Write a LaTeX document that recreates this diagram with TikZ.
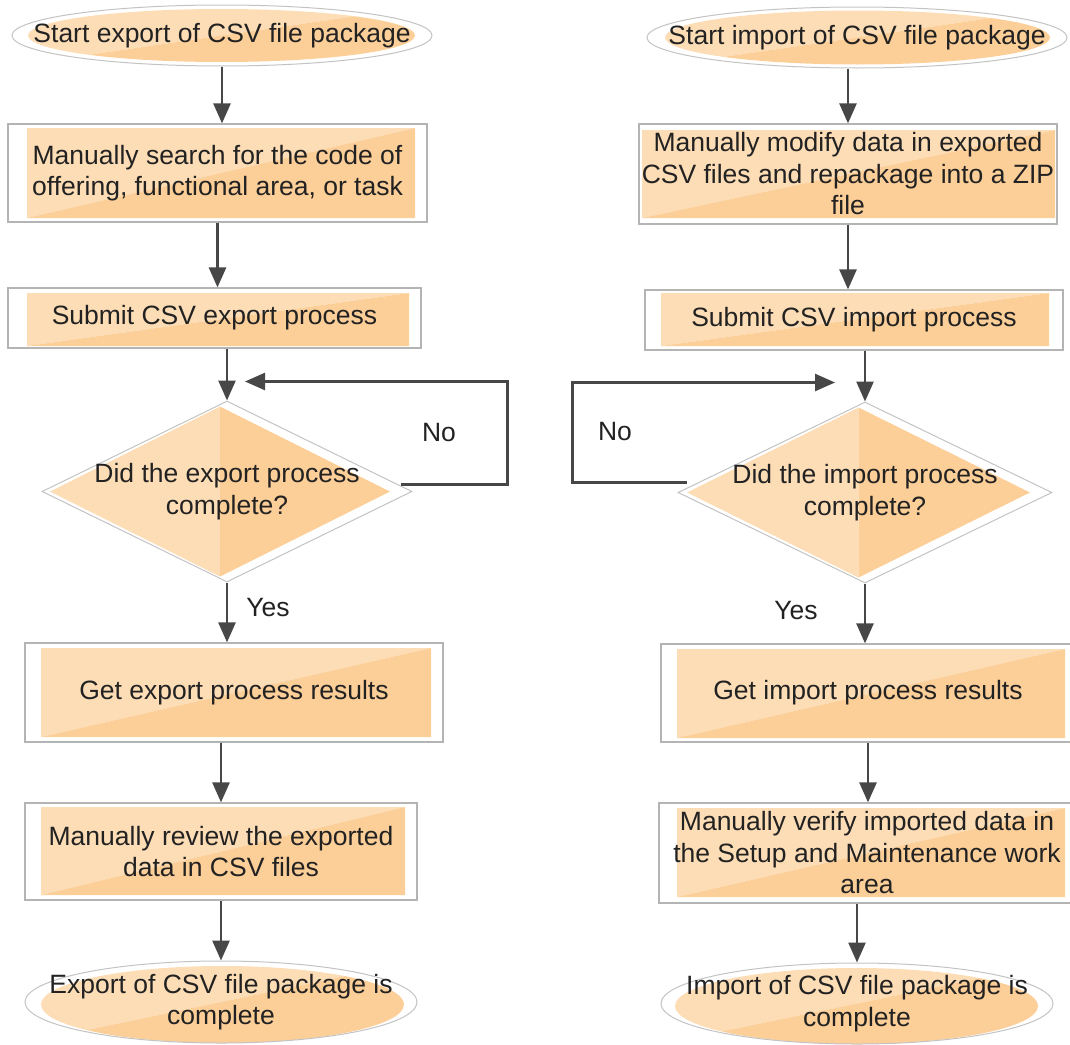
\documentclass[tikz,border=0pt]{standalone}
\usepackage{fontspec}
\setmainfont{Liberation Sans}
\usetikzlibrary{shapes.geometric,arrows.meta,calc}
\definecolor{orL}{HTML}{FDDDB6}
\definecolor{orD}{HTML}{FCCE98}
\definecolor{frameC}{HTML}{B4B4B4}
\definecolor{lineC}{HTML}{474747}
\definecolor{textC}{HTML}{222222}
\tikzset{
  boxin/.style n args={4}{path picture={
      \coordinate (pSW) at ($(path picture bounding box.south west)+(#1pt,#4pt)$);
      \coordinate (pNE) at ($(path picture bounding box.north east)+(-#2pt,-#3pt)$);
      \fill[orL] (pSW) -- (pSW |- pNE) -- (pNE) -- cycle;
      \fill[orD] (pSW) -- (pNE) -- (pNE |- pSW) -- cycle;
  }},
  ellin/.style n args={4}{path picture={
      \begin{scope}
        \clip ($(path picture bounding box.center)+(#1pt,#2pt)$) ellipse [x radius=#3pt, y radius=#4pt];
        \fill[orL] (path picture bounding box.south west) -- (path picture bounding box.north west) -- (path picture bounding box.north east) -- cycle;
        \fill[orD] (path picture bounding box.south west) -- (path picture bounding box.north east) -- (path picture bounding box.south east) -- cycle;
      \end{scope}
  }},
  dmdin/.style n args={3}{path picture={
      \coordinate (dC) at ($(path picture bounding box.center)+(#1pt,0pt)$);
      \fill[orL] ($(dC)+(0pt,#3pt)$) -- ($(dC)+(-#2pt,0pt)$) -- ($(dC)+(0pt,-#3pt)$) -- cycle;
      \fill[orD] ($(dC)+(0pt,#3pt)$) -- ($(dC)+(#2pt,0pt)$) -- ($(dC)+(0pt,-#3pt)$) -- cycle;
  }},
}
\begin{document}
\begin{tikzpicture}[x=1pt,y=-1pt,
  every node/.style={font=\fontsize{26.5}{31.5}\selectfont, text=textC},
  box/.style={rectangle, draw=frameC, line width=1.2pt, inner sep=0pt, align=center},
  ell/.style={ellipse, draw=frameC!80, line width=1pt, inner sep=0pt},
  dmd/.style={diamond, draw=frameC!80, line width=1pt, inner sep=0pt},
  lab/.style={align=center, inner sep=0pt},
  arr/.style={draw=lineC, line width=2.6pt, -{Triangle[length=20pt,width=17pt]}},
  tag/.style={inner sep=0pt},
]
\useasboundingbox (0,0) rectangle (1070,1044);

% ---------- left column ----------
\node[ell, minimum width=420pt, minimum height=61pt, ellin={-0.5}{0}{193.5}{26.5},
      label={[lab]center:Start export of CSV file package}] (s1) at (222,35.5) {};
\node[box, minimum width=419pt, minimum height=98pt, boxin={19}{12}{4}{4}] (b1) at (217.5,173)
      {Manually search for the code of\\offering, functional area, or task};
\node[box, minimum width=413pt, minimum height=60pt, boxin={19}{12}{5}{2}] (b2) at (214.5,318)
      {Submit CSV export process};
\node[dmd, minimum width=370pt, minimum height=181pt, dmdin={-7}{170}{85},
      label={[lab]center:{Did the export process\\complete?}}] (d1) at (227,491.5) {};
\node[box, minimum width=418pt, minimum height=99pt, boxin={16}{12}{5}{5}] (b3) at (234,692.5)
      {Get export process results};
\node[box, minimum width=392pt, minimum height=97pt, boxin={16}{12}{4}{5}] (b4) at (221,851.5)
      {Manually review the exported\\data in CSV files};
\node[ell, minimum width=392pt, minimum height=82pt, ellin={1.5}{-2.5}{181.5}{38.5},
      label={[lab]center:{Export of CSV file package is\\complete}}] (e1) at (221,1002) {};

\draw[arr] (s1.south) -- (s1.south |- b1.north);
\draw[arr] (b1.south) -- (b1.south |- b2.north);
\draw[arr] (d1.north |- b2.south) -- (d1.north);
\draw[arr] (d1.south) -- (d1.south |- b3.north);
\draw[arr] (b4.north |- b3.south) -- (b4.north);
\draw[arr] (b4.south) -- (b4.south |- e1.north);

\coordinate (l1s) at ($(d1.east)+(-12pt,7pt)$);
\coordinate (l1t) at ($(d1.north)+(18pt,19pt)$);
\draw[arr] (l1s) -- ++(107pt,0pt) |- (l1t);
\node[tag] (no1) at (439,433) {No};
\node[tag] (yes1) at (268,608) {Yes};

% ---------- right column ----------
\node[ell, minimum width=420pt, minimum height=61pt, ellin={0.5}{0}{192.5}{27},
      label={[lab]center:Start import of CSV file package}] (s2) at (857,37.5) {};
\node[box, minimum width=418pt, minimum height=100pt, boxin={3}{2}{6}{6}] (b5) at (848,174)
      {Manually modify data in exported\\CSV files and repackage into a ZIP\\file};
\node[box, minimum width=418pt, minimum height=60pt, boxin={16}{14}{3}{4}] (b6) at (854,320)
      {Submit CSV import process};
\node[dmd, minimum width=374pt, minimum height=181pt, dmdin={-6.5}{171.5}{85},
      label={[lab]center:{Did the import process\\complete?}}] (d2) at (865,492.5) {};
\node[box, minimum width=414pt, minimum height=98pt, boxin={16}{10}{5}{4}] (b7) at (868,693)
      {Get import process results};
\node[box, minimum width=416pt, minimum height=100pt, boxin={18}{10}{5}{6}] (b8) at (867,853)
      {Manually verify imported data in\\the Setup and Maintenance work\\area};
\node[ell, minimum width=392pt, minimum height=81pt, ellin={-0.5}{-2.5}{181.5}{38},
      label={[lab]center:{Import of CSV file package is\\complete}}] (e2) at (857,1003.5) {};

\draw[arr] (b5.north |- s2.south) -- (b5.north);
\draw[arr] (b5.south) -- (b5.south |- b6.north);
\draw[arr] (d2.north |- b6.south) -- (d2.north);
\draw[arr] (d2.south) -- (d2.south |- b7.north);
\draw[arr] (b7.south) -- (b7.south |- b8.north);
\draw[arr] (e2.north |- b8.south) -- (e2.north);

\coordinate (r1s) at ($(d2.west)+(9pt,10pt)$);
\coordinate (r1t) at ($(d2.north)+(-30pt,19pt)$);
\draw[arr] (r1s) -- ++(-114pt,0pt) |- (r1t);
\node[tag] (no2) at (615,432) {No};
\node[tag] (yes2) at (796,611) {Yes};
\end{tikzpicture}
\end{document}
